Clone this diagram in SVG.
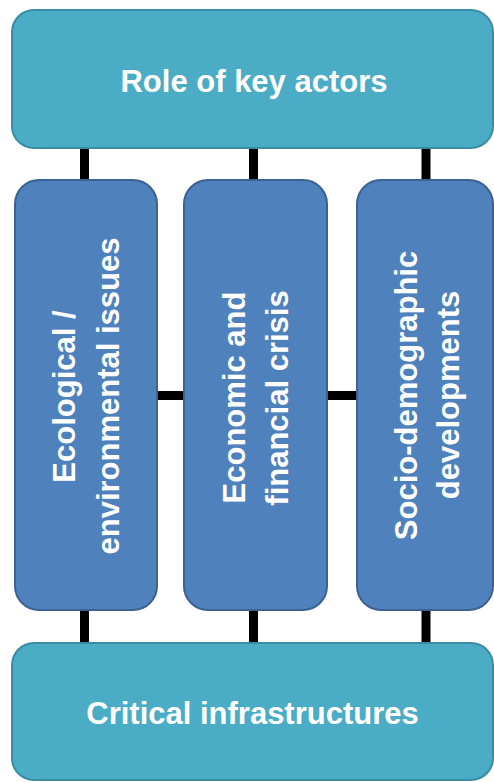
<svg xmlns="http://www.w3.org/2000/svg" width="494" height="782" viewBox="0 0 494 782">
  <style>
    .wide { fill: #4BACC6; stroke: #3A8CA5; stroke-width: 2; }
    .col { fill: #4F81BD; stroke: #3B6291; stroke-width: 2; }
    .lbl { font-family: "Liberation Sans", Arial, sans-serif; font-weight: bold; font-size: 31px; fill: #FFFFFF; text-anchor: middle; }
    .conn { stroke: #000000; stroke-width: 9; fill: none; }
  </style>
  <rect x="0" y="0" width="494" height="782" fill="#FFFFFF"/>
  <g id="connectors">
    <line class="conn" x1="84.5" y1="148" x2="84.5" y2="181"/>
    <line class="conn" x1="253.5" y1="148" x2="253.5" y2="181"/>
    <line class="conn" x1="426" y1="148" x2="426" y2="181"/>
    <line class="conn" x1="84.5" y1="609" x2="84.5" y2="644"/>
    <line class="conn" x1="253.5" y1="609" x2="253.5" y2="644"/>
    <line class="conn" x1="426" y1="609" x2="426" y2="644"/>
    <line class="conn" x1="156" y1="395.5" x2="185" y2="395.5"/>
    <line class="conn" x1="326" y1="395.5" x2="358" y2="395.5"/>
  </g>
  <g id="role-of-key-actors">
    <rect class="wide" x="12" y="10" width="481" height="138" rx="22" ry="22"/>
    <text class="lbl" x="254" y="92">Role of key actors</text>
  </g>
  <g id="ecological">
    <rect class="col" x="15" y="180" width="142" height="430" rx="24" ry="24"/>
    <text class="lbl" transform="translate(75,396.5) rotate(-90)">Ecological /</text>
    <text class="lbl" transform="translate(119,396) rotate(-90)">environmental issues</text>
  </g>
  <g id="economic">
    <rect class="col" x="184" y="180" width="143" height="430" rx="24" ry="24"/>
    <text class="lbl" transform="translate(245,397.5) rotate(-90)">Economic and</text>
    <text class="lbl" transform="translate(288,398) rotate(-90)">financial crisis</text>
  </g>
  <g id="socio-demographic">
    <rect class="col" x="357" y="180" width="136" height="430" rx="24" ry="24"/>
    <text class="lbl" transform="translate(417,395.5) rotate(-90)">Socio-demographic</text>
    <text class="lbl" transform="translate(459,395) rotate(-90)">developments</text>
  </g>
  <g id="critical-infrastructures">
    <rect class="wide" x="12" y="643" width="481" height="137" rx="22" ry="22"/>
    <text class="lbl" x="252.5" y="724">Critical infrastructures</text>
  </g>
</svg>
